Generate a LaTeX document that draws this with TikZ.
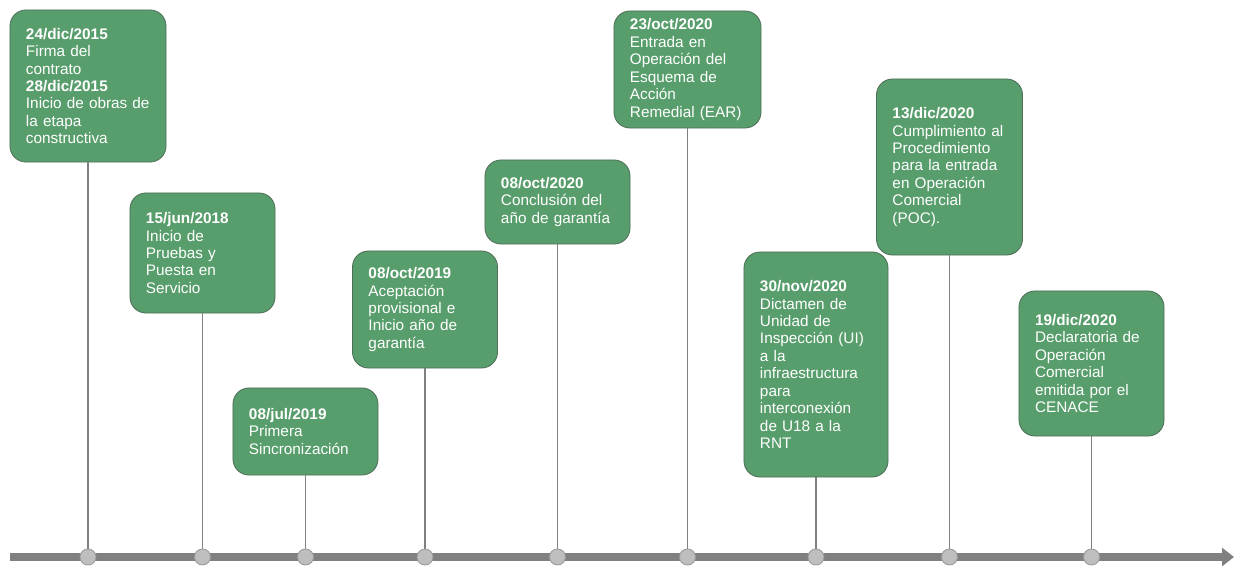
\documentclass[tikz,border=0pt]{standalone}
\usepackage{fontspec}
\setmainfont{Liberation Sans}
\usetikzlibrary{arrows.meta}
\definecolor{verde}{RGB}{88,158,108}
\definecolor{borde}{RGB}{78,110,88}
\definecolor{linea}{RGB}{128,128,128}
\definecolor{punto}{RGB}{190,190,190}

\tikzset{
    hito/.style={draw=borde,line width=0.6pt,fill=verde,rounded corners=0.4cm,
        text=white,align=left,inner xsep=0.4cm,inner ysep=0.1cm,
        font=\fontsize{10.9}{12.4}\selectfont},
    tallo/.style={draw=linea,line width=1.1pt},
    marca/.style={circle,draw=linea!80,line width=0.6pt,fill=punto,minimum size=0.4cm,inner sep=0pt},
    eje/.style={draw=linea,line width=5pt,-{Triangle[length=0.3cm,width=0.45cm]}}
}

\begin{document}
\begin{tikzpicture}[x=0.025cm,y=-0.025cm]
        \useasboundingbox (0,0) rectangle (1234,565);

        % hitos
        \node[hito,text width=3.1cm,minimum height=3.8cm] (h1) at (88,86) {\textbf{24/dic/2015}\\Firma del\\contrato\\\textbf{28/dic/2015}\\Inicio de obras de\\la etapa\\constructiva};
        \node[hito,text width=2.825cm,minimum height=3cm] (h2) at (202.5,253) {\textbf{15/jun/2018}\\Inicio de\\Pruebas y\\Puesta en\\Servicio};
        \node[hito,text width=2.825cm,minimum height=2.175cm] (h3) at (305.5,431.5) {\textbf{08/jul/2019}\\Primera\\Sincronización};
        \node[hito,text width=2.825cm,minimum height=2.925cm] (h4) at (425,309.5) {\textbf{08/oct/2019}\\Aceptación\\provisional e\\Inicio año de\\garantía};
        \node[hito,text width=2.825cm,minimum height=2.1cm] (h5) at (557.5,202) {\textbf{08/oct/2020}\\Conclusión del\\año de garantía};
        \node[hito,text width=2.875cm,minimum height=2.925cm] (h6) at (687.5,69.5) {\textbf{23/oct/2020}\\Entrada en\\Operación del\\Esquema de\\Acción\\Remedial (EAR)};
        \node[hito,text width=2.8cm,minimum height=5.625cm] (h7) at (816,364.5) {\textbf{30/nov/2020}\\Dictamen de\\Unidad de\\Inspección (UI)\\a la\\infraestructura\\para\\interconexión\\de U18 a la\\RNT};
        \node[hito,text width=2.85cm,minimum height=4.4cm] (h8) at (949.5,167) {\textbf{13/dic/2020}\\Cumplimiento al\\Procedimiento\\para la entrada\\en Operación\\Comercial\\(POC).};
        \node[hito,text width=2.825cm,minimum height=3.625cm] (h9) at (1091.5,363.5) {\textbf{19/dic/2020}\\Declaratoria de\\Operación\\Comercial\\emitida por el\\CENACE};

        % linea de tiempo
        \coordinate (ini) at (10,557);
        \coordinate (fin) at (1234,557);
        \draw[eje] (ini) -- (fin);

        \foreach \i in {1,...,9}{
            \coordinate (p\i) at (h\i.south |- ini);
            \draw[tallo] (h\i.south) -- (p\i);
            \node[marca] (m\i) at (p\i) {};
        }
    \end{tikzpicture}
\end{document}
